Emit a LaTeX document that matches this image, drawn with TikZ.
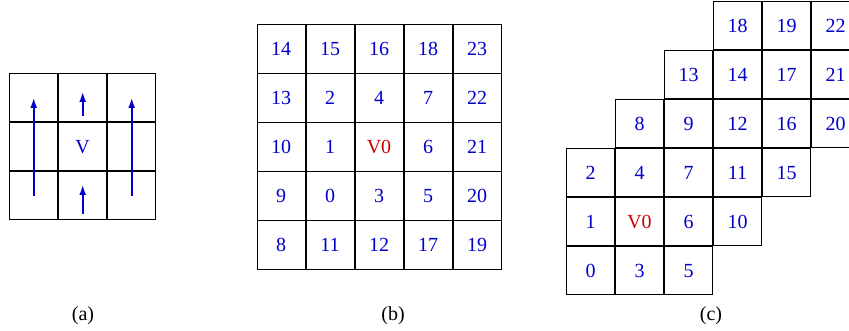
\documentclass[tikz,border=0pt]{standalone}
\usepackage{fontspec}
\setmainfont{Liberation Serif}
\usetikzlibrary{matrix, arrows.meta}
\definecolor{numblue}{RGB}{0,0,200}
\definecolor{vred}{RGB}{200,0,0}
\tikzset{
  cell/.style={draw, line width=1pt, minimum size=48pt, inner sep=0pt, outer sep=0pt, text height=13pt, text depth=0pt, text=numblue, font=\fontsize{20}{24}\selectfont},
  cellgrid/.style={matrix of nodes, nodes={cell}, row sep=0pt, column sep=0pt, ampersand replacement=\&},
  uparrow/.style={draw=numblue, line width=1.6pt, -{Latex[length=10pt,width=7pt,fill=numblue]}},
  caption/.style={font=\fontsize{20}{24}\selectfont}
}
\begin{document}
\begin{tikzpicture}[x=1pt, y=-1pt]
        \useasboundingbox (0,0) rectangle (849,331);

        % (a) neighbourhood with scan arrows
        \matrix[cellgrid, nodes in empty cells] (ga) at (82.7,147) {
            \& \& \\
            \& V \& \\
            \& \& \\
        };
        \draw[uparrow] (ga-3-1.center) -- (ga-1-1.center);
        \draw[uparrow] (ga-3-3.center) -- (ga-1-3.center);
        \draw[uparrow] ([yshift=-18pt]ga-1-2.center) -- ([yshift=6pt]ga-1-2.center);
        \draw[uparrow] ([yshift=-18pt]ga-3-2.center) -- ([yshift=11pt]ga-3-2.center);

        % (b) square ordering
        \matrix[cellgrid] (gb) at (379,147) {
            14 \& 15 \& 16 \& 18 \& 23 \\
            13 \& 2 \& 4 \& 7 \& 22 \\
            10 \& 1 \& |[text=vred]| V0 \& 6 \& 21 \\
            9 \& 0 \& 3 \& 5 \& 20 \\
            8 \& 11 \& 12 \& 17 \& 19 \\
        };

        % (c) skewed ordering
        \matrix[cellgrid] (gc) at (713,148) {
              \&   \&    \& 18 \& 19 \& 22 \\
              \&   \& 13 \& 14 \& 17 \& 21 \\
              \& 8 \& 9  \& 12 \& 16 \& 20 \\
            2 \& 4 \& 7  \& 11 \& 15 \& \\
            1 \& |[text=vred]| V0 \& 6 \& 10 \& \& \\
            0 \& 3 \& 5  \&    \&    \& \\
        };

        % Captions
        \node[caption] (capa) at (83,316) {(a)};
        \node[caption] (capb) at (393,316) {(b)};
        \node[caption] (capc) at (711,316) {(c)};
    \end{tikzpicture}
\end{document}
